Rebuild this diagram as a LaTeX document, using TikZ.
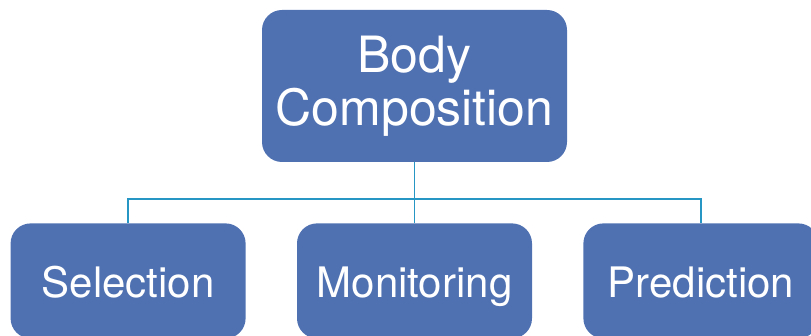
\documentclass[tikz,border=0pt]{standalone}
\usepackage{fontspec}
\setmainfont{TeX Gyre Heros}
\usetikzlibrary{positioning}
\definecolor{boxblue}{RGB}{79,113,178}
\definecolor{linkblue}{RGB}{38,150,196}

\begin{document}
\begin{tikzpicture}[topnode/.style={rectangle, rounded corners=20pt, fill=boxblue, text=white, inner sep=2pt,
                                    minimum width=305pt, minimum height=152pt, align=center, font=\fontsize{50}{53}\selectfont},
                    leafnode/.style={rectangle, rounded corners=20pt, fill=boxblue, text=white, inner sep=2pt,
                                    text height=40pt, text depth=7pt,
                                    minimum width=235pt, minimum height=115pt, font=\fontsize{42}{46}\selectfont},
                    link/.style={draw=linkblue, line width=1.3pt}, node distance=51pt]
                    \useasboundingbox (0,0) rectangle (811pt,-336pt);
                    \node[topnode] (body) at (414.5pt,-86pt) {Body\\Composition};
                    \node[leafnode] (mon) [below=61pt of body] {Monitoring};
                    \node[leafnode] (sel) [left=of mon] {Selection};
                    \node[leafnode] (pred) [right=of mon] {Prediction};
                    \coordinate (bus) at (0,-199pt);
                    \draw[link] (body.south) -- (body.south |- bus) -| (sel.north);
                    \draw[link] (body.south) -- (mon.north);
                    \draw[link] (body.south |- bus) -| (pred.north);
                \end{tikzpicture}
\end{document}
